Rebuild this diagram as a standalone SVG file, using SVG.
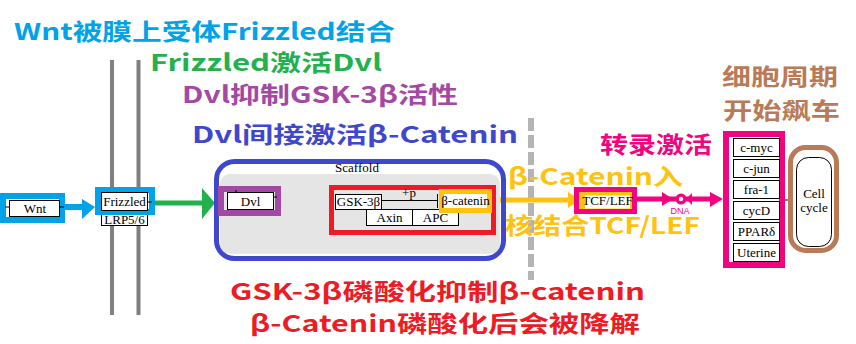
<svg xmlns="http://www.w3.org/2000/svg" width="856" height="344" viewBox="0 0 856 344">
<style>
.t{font-family:"Noto Sans CJK SC","Noto Sans",sans-serif;font-weight:700;font-size:23px}
.lb{font-family:"Liberation Serif","Times New Roman",serif;font-size:13px;fill:#000;text-anchor:middle}
.box{fill:#fff;stroke:#000;stroke-width:1}
.ln{fill:none;stroke:#000;stroke-width:1}
</style>
<rect width="856" height="344" fill="#fff"/>

<!-- membrane and nucleus boundary -->
<g id="membrane">
<line x1="112" y1="60" x2="112" y2="315" stroke="#808080" stroke-width="4"/>
<line x1="138.5" y1="60" x2="138.5" y2="315" stroke="#808080" stroke-width="4"/>
</g>
<g id="nuclear-boundary">
<line x1="531" y1="118" x2="531" y2="280" stroke="#b4b4b4" stroke-width="6" stroke-dasharray="13 4"/>
</g>

<!-- annotations -->
<g id="annotations">
<text class="t" x="14" y="40" fill="#00a2e8" font-size="22" textLength="381" lengthAdjust="spacingAndGlyphs">Wnt被膜上受体Frizzled结合</text>
<text class="t" x="150" y="71" fill="#22b14c" font-size="21" textLength="232" lengthAdjust="spacingAndGlyphs">Frizzled激活Dvl</text>
<text class="t" x="182" y="103" fill="#a349a4" font-size="22" textLength="276" lengthAdjust="spacingAndGlyphs">Dvl抑制GSK-3β活性</text>
<text class="t" x="192" y="143" fill="#3f48cc" textLength="326" lengthAdjust="spacingAndGlyphs">Dvl间接激活β-Catenin</text>
<text class="t" x="600" y="153" fill="#f0047f" textLength="112" lengthAdjust="spacingAndGlyphs">转录激活</text>
<text class="t" x="508" y="185" fill="#ffc20e" font-size="22" textLength="175" lengthAdjust="spacingAndGlyphs">β-Catenin入</text>
<text class="t" x="505" y="234" fill="#ffc20e" font-size="20" textLength="195" lengthAdjust="spacingAndGlyphs">核结合TCF/LEF</text>
<text class="t" x="722" y="85" fill="#b97a57" font-size="22" textLength="116" lengthAdjust="spacingAndGlyphs">细胞周期</text>
<text class="t" x="723" y="119" fill="#b97a57" font-size="22" textLength="117" lengthAdjust="spacingAndGlyphs">开始飙车</text>
<text class="t" x="230" y="300" fill="#ed1c24" font-size="21" textLength="415" lengthAdjust="spacingAndGlyphs">GSK-3β磷酸化抑制β-catenin</text>
<text class="t" x="250" y="332" fill="#ed1c24" font-size="20" textLength="390" lengthAdjust="spacingAndGlyphs">β-Catenin磷酸化后会被降解</text>
</g>

<!-- connectors -->
<g id="connectors">
<line x1="64" y1="207" x2="84" y2="207" stroke="#00a2e8" stroke-width="6"/>
<polygon points="82,199 95,207 82,219" fill="#00a2e8"/>
<line x1="155" y1="203" x2="204" y2="203" stroke="#22b14c" stroke-width="5"/>
<polygon points="202,188 215,203 202,219" fill="#22b14c"/>
<line x1="281" y1="202" x2="322" y2="202" stroke="#a349a4" stroke-width="5"/>
<rect x="320" y="188" width="9" height="27" rx="3" fill="#a349a4"/>
<line x1="492" y1="200" x2="570" y2="200" stroke="#ffc20e" stroke-width="5"/>
<polygon points="568,192 580,200 568,208" fill="#ffc20e"/>
<line x1="637" y1="199" x2="712" y2="199" stroke="#f0047f" stroke-width="5"/>
<polygon points="710,192 723,199 710,207" fill="#f0047f"/>
<polygon points="662,192 673,199 662,206" fill="#f0047f"/>
<circle cx="681" cy="199" r="5.5" fill="#f0047f"/>
<circle cx="681" cy="199" r="2.2" fill="#fff"/>
<polygon points="692,193 686,199 692,205" fill="#f0047f"/>
<text x="680" y="214" font-family="Liberation Sans,sans-serif" font-size="9" fill="#f0047f" text-anchor="middle">DNA</text>
<line class="ln" x1="785" y1="200" x2="796" y2="200"/>
</g>

<!-- nodes -->
<g id="wnt">
<rect x="3" y="196" width="59" height="24" fill="none" stroke="#00a2e8" stroke-width="6"/>
<rect class="box" x="9.5" y="200.5" width="50" height="16"/>
<line class="ln" x1="5" y1="207" x2="9" y2="207"/>
<line class="ln" x1="60" y1="207" x2="64" y2="207"/>
<text class="lb" x="35" y="213">Wnt</text>
</g>

<g id="frizzled">
<rect class="box" x="101.5" y="211.5" width="46" height="14"/>
<text class="lb" x="124.5" y="224" font-size="12">LRP5/6</text>
<rect x="98" y="190" width="54" height="22" fill="none" stroke="#00a2e8" stroke-width="6"/>
<rect class="box" x="101.5" y="192.5" width="46" height="18"/>
<line class="ln" x1="148" y1="202" x2="152" y2="202"/>
<text class="lb" x="124.5" y="206">Frizzled</text>
</g>

<g id="scaffold">
<rect x="216.5" y="161.5" width="287" height="97" rx="18" fill="none" stroke="#3f48cc" stroke-width="5"/>
<rect x="220" y="174" width="280" height="80" rx="10" fill="#e5e5e5"/>
<text class="lb" x="357" y="172" font-size="12">Scaffold</text>
</g>

<g id="dvl">
<rect x="221" y="189" width="57" height="24" fill="none" stroke="#a349a4" stroke-width="6"/>
<rect class="box" x="227.5" y="192.5" width="46" height="17"/>
<line class="ln" x1="236" y1="190" x2="236" y2="193"/>
<line class="ln" x1="274" y1="197" x2="277" y2="197"/>
<text class="lb" x="250.5" y="206">Dvl</text>
</g>

<g id="destruction-complex">
<rect x="331.5" y="187.5" width="162" height="45" fill="none" stroke="#ed1c24" stroke-width="5"/>
<rect class="box" x="335.5" y="194.5" width="46" height="15"/>
<text class="lb" x="358.5" y="206">GSK-3β</text>
<rect class="box" x="366.5" y="209.5" width="46" height="16"/>
<text class="lb" x="389.5" y="222">Axin</text>
<rect class="box" x="412.5" y="209.5" width="46" height="16"/>
<text class="lb" x="435.5" y="222">APC</text>
<line class="ln" x1="382" y1="200.5" x2="437" y2="200.5"/>
<line class="ln" x1="437.5" y1="194" x2="437.5" y2="208"/>
<text class="lb" x="409" y="197" font-size="12">+p</text>
</g>

<g id="beta-catenin">
<rect x="441.5" y="191.5" width="48" height="19" fill="#fff" stroke="#ffc20e" stroke-width="5"/>
<text class="lb" x="465.5" y="205" font-size="11">β-catenin</text>
</g>

<g id="tcf-lef">
<rect x="576.5" y="189.5" width="58" height="22" fill="#ffc20e" stroke="#f0047f" stroke-width="5"/>
<rect x="585" y="195.5" width="45" height="13" fill="#fff"/>
<text class="lb" x="607.5" y="205" font-size="11">TCF/LEF</text>
</g>

<g id="target-genes">
<rect x="726" y="134" width="56" height="131" fill="#fff" stroke="#f0047f" stroke-width="6"/>
<rect class="box" x="733.5" y="138.5" width="46" height="18"/>
<text class="lb" x="756.5" y="152">c-myc</text>
<rect class="box" x="733.5" y="159.5" width="46" height="18"/>
<text class="lb" x="756.5" y="173">c-jun</text>
<rect class="box" x="733.5" y="180.5" width="46" height="18"/>
<text class="lb" x="756.5" y="194">fra-1</text>
<rect class="box" x="733.5" y="201.5" width="46" height="18"/>
<text class="lb" x="756.5" y="215">cycD</text>
<rect class="box" x="733.5" y="222.5" width="46" height="18"/>
<text class="lb" x="756.5" y="236">PPARδ</text>
<rect class="box" x="733.5" y="243.5" width="46" height="18"/>
<text class="lb" x="756.5" y="257">Uterine</text>
</g>

<g id="cell-cycle">
<rect x="790.5" y="147.5" width="46" height="103" rx="15" fill="#fff" stroke="#b97a57" stroke-width="5"/>
<rect class="box" x="796.5" y="157.5" width="35" height="89" rx="12"/>
<text class="lb" x="814" y="198" font-size="12">Cell</text>
<text class="lb" x="814" y="212" font-size="12">cycle</text>
</g>
</svg>
